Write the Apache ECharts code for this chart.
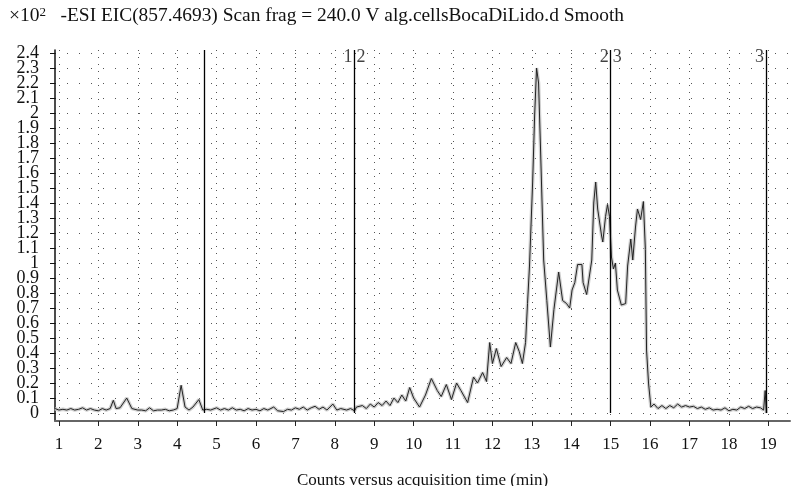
<!DOCTYPE html>
<html><head><meta charset="utf-8">
<script src="https://cdn.jsdelivr.net/npm/echarts@6/dist/echarts.min.js"></script>
<style>html,body{margin:0;padding:0;background:#fff}#c{width:793px;height:486px}</style>
</head><body><div id="c"></div>
<script>
// retention time (min)
const times = [0.9,1.0,1.1,1.2,1.3,1.4,1.5,1.6,1.7,1.8,1.9,2.0,2.1,2.2,2.3,2.38,2.45,2.55,2.72,2.85,3.0,3.1,3.2,3.3,3.4,3.5,3.6,3.7,3.8,3.9,4.0,4.1,4.2,4.3,4.4,4.55,4.65,4.75,4.85,5.0,5.1,5.2,5.3,5.4,5.5,5.6,5.7,5.8,5.9,6.0,6.1,6.2,6.3,6.45,6.55,6.7,6.8,6.9,7.0,7.1,7.2,7.3,7.4,7.5,7.6,7.7,7.8,7.95,8.05,8.15,8.3,8.4,8.5,
8.55,8.6,8.7,8.8,8.9,9.0,9.1,9.2,9.3,9.4,9.5,9.6,9.7,9.8,9.9,10.0,10.15,10.3,10.45,10.6,10.7,10.83,10.96,11.09,11.2,11.37,11.52,11.62,11.75,11.85,11.93,12.0,12.1,12.22,12.36,12.47,12.59,12.68,12.76,12.84,12.89,12.94,13.0,13.02,13.07,13.12,13.17,13.22,13.3,13.38,13.47,13.56,13.68,13.78,13.88,13.96,14.02,14.09,14.16,14.27,14.3,14.39,14.52,14.57,14.62,14.67,14.77,14.8,14.87,14.92,14.97,15.02,15.07,15.12,15.17,15.27,15.38,15.43,15.51,15.56,15.63,15.68,15.76,15.83,15.88,15.91,15.96,16.02,
16.1,16.2,16.3,16.4,16.5,16.6,16.7,16.8,16.9,17.0,17.1,17.2,17.3,17.4,17.5,17.6,17.7,17.8,17.9,18.0,18.1,18.2,18.3,18.4,18.5,18.6,18.7,18.8,18.88,18.92,18.95];
// counts (x10^2)
const counts = [0.03,0.02,0.025,0.02,0.03,0.02,0.025,0.035,0.02,0.03,0.02,0.015,0.03,0.02,0.03,0.085,0.03,0.035,0.10,0.03,0.02,0.02,0.015,0.035,0.015,0.02,0.02,0.025,0.015,0.02,0.03,0.185,0.04,0.02,0.04,0.09,0.02,0.025,0.02,0.035,0.02,0.03,0.02,0.035,0.02,0.025,0.015,0.03,0.02,0.025,0.015,0.03,0.02,0.04,0.015,0.01,0.025,0.02,0.035,0.025,0.04,0.02,0.035,0.045,0.025,0.04,0.02,0.06,0.02,0.03,0.02,0.03,0.015,
0.04,0.03,0.05,0.03,0.06,0.04,0.07,0.05,0.08,0.05,0.10,0.07,0.12,0.08,0.17,0.10,0.04,0.12,0.23,0.15,0.11,0.19,0.09,0.20,0.15,0.07,0.24,0.20,0.27,0.21,0.47,0.33,0.43,0.31,0.37,0.33,0.47,0.41,0.33,0.47,0.73,0.98,1.40,1.54,1.98,2.30,2.20,1.76,1.02,0.75,0.44,0.69,0.94,0.75,0.73,0.70,0.82,0.87,0.99,0.99,0.87,0.79,1.02,1.40,1.54,1.36,1.18,1.14,1.31,1.39,1.31,1.04,0.96,1.00,0.82,0.72,0.73,0.98,1.16,1.02,1.24,1.36,1.29,1.41,1.09,0.42,0.20,0.04,
0.06,0.03,0.05,0.03,0.05,0.035,0.06,0.04,0.05,0.04,0.045,0.03,0.04,0.025,0.035,0.02,0.025,0.02,0.035,0.015,0.025,0.02,0.04,0.03,0.045,0.03,0.04,0.035,0.02,0.15,0.0];
const xTicks = [1,2,3,4,5,6,7,8,9,10,11,12,13,14,15,16,17,18,19];
const yTicks = [0,0.1,0.2,0.3,0.4,0.5,0.6,0.7,0.8,0.9,1,1.1,1.2,1.3,1.4,1.5,1.6,1.7,1.8,1.9,2,2.1,2.2,2.3,2.4];
const yMin = -0.053, yMax = 2.42;
const markerTimes = [4.68, 8.5, 15.0, 18.94];
const markerLabels = [
  {t: 8.5, text: '1', side: 'left'}, {t: 8.5, text: '2', side: 'right'},
  {t: 15.0, text: '2', side: 'left'}, {t: 15.0, text: '3', side: 'right'},
  {t: 18.94, text: '3', side: 'left'}
];
const titleText = '-ESI EIC(857.4693) Scan frag = 240.0 V alg.cellsBocaDiLido.d Smooth';
const xName = 'Counts versus acquisition time (min)';

const FONT = '"Liberation Serif", "DejaVu Serif", serif';
const data = times.map((t, i) => [t, counts[i]]);
// extent placeholders so the library's min/max-label overlap removal does not drop real labels
const yLabelValues = [yMin].concat(yTicks, [yMax]);
const chart = echarts.init(document.getElementById('c'));
chart.setOption({
  animation: false,
  backgroundColor: '#fff',
  title: {
    text: '{a|×10}{s|2}{b|   ' + titleText + '}',
    left: 4, top: 1,
    textStyle: {
      fontWeight: 'normal',
      rich: {
        a: {fontFamily: FONT, fontSize: 19.5, fontWeight: 'normal', color: '#111'},
        s: {fontFamily: FONT, fontSize: 13, fontWeight: 'normal', color: '#111', verticalAlign: 'top', lineHeight: 12},
        b: {fontFamily: FONT, fontSize: 19.4, fontWeight: 'normal', color: '#111'}
      }
    }
  },
  grid: {left: 55, right: 3, top: 50, bottom: 65, containLabel: false, outerBoundsMode: 'none'},
  xAxis: {
    type: 'value', min: 0.9, max: 19.55,
    name: xName, nameLocation: 'middle', nameGap: 51,
    nameTextStyle: {fontFamily: FONT, fontSize: 17, color: '#111'},
    axisLine: {onZero: false, lineStyle: {color: '#666', width: 2}},
    axisTick: {show: true, length: 5, inside: false, lineStyle: {color: '#222'}, customValues: xTicks},
    axisLabel: {fontFamily: FONT, fontSize: 17, color: '#111', margin: 15, customValues: xTicks,
      showMinLabel: true, showMaxLabel: true, formatter: v => String(v)},
    splitLine: {show: true, lineStyle: {color: '#555', type: [1, 6], width: 1}}
  },
  yAxis: {
    type: 'value', min: yMin, max: yMax,
    axisLine: {show: true, onZero: false, lineStyle: {color: '#111', width: 1.5}},
    axisTick: {show: true, length: 5, lineStyle: {color: '#111'}, customValues: yTicks},
    axisLabel: {fontFamily: FONT, fontSize: 18, color: '#111', margin: 16, customValues: yLabelValues, lineHeight: 14,
      showMinLabel: false, showMaxLabel: false, hideOverlap: false,
      formatter: v => (v < -0.01 || v > 2.41) ? '' : String(Math.round(v * 10) / 10)},
    splitLine: {show: true, lineStyle: {color: '#555', type: [1, 11], width: 1}}
  },
  series: [
    {
      type: 'line', data: data, showSymbol: false, silent: true, z: 1,
      lineStyle: {color: '#cfcfcf', width: 3.5}
    },
    {
      type: 'line', data: data, showSymbol: false, silent: true, z: 3,
      lineStyle: {color: '#222', width: 1},
      markLine: {
        silent: true, symbol: 'none', label: {show: false},
        lineStyle: {color: '#000', width: 1.3, type: 'solid'},
        data: markerTimes.map(t => [{coord: [t, 0]}, {coord: [t, yMax]}])
      }
    },
    {
      type: 'scatter', symbolSize: 0, silent: true, z: 4,
      data: markerLabels.map(m => ({value: [m.t, 2.37], label: {
        show: true, formatter: m.text, position: m.side, distance: 2,
        fontFamily: FONT, fontSize: 18, color: '#111'}}))
    }
  ]
});
</script></body></html>
